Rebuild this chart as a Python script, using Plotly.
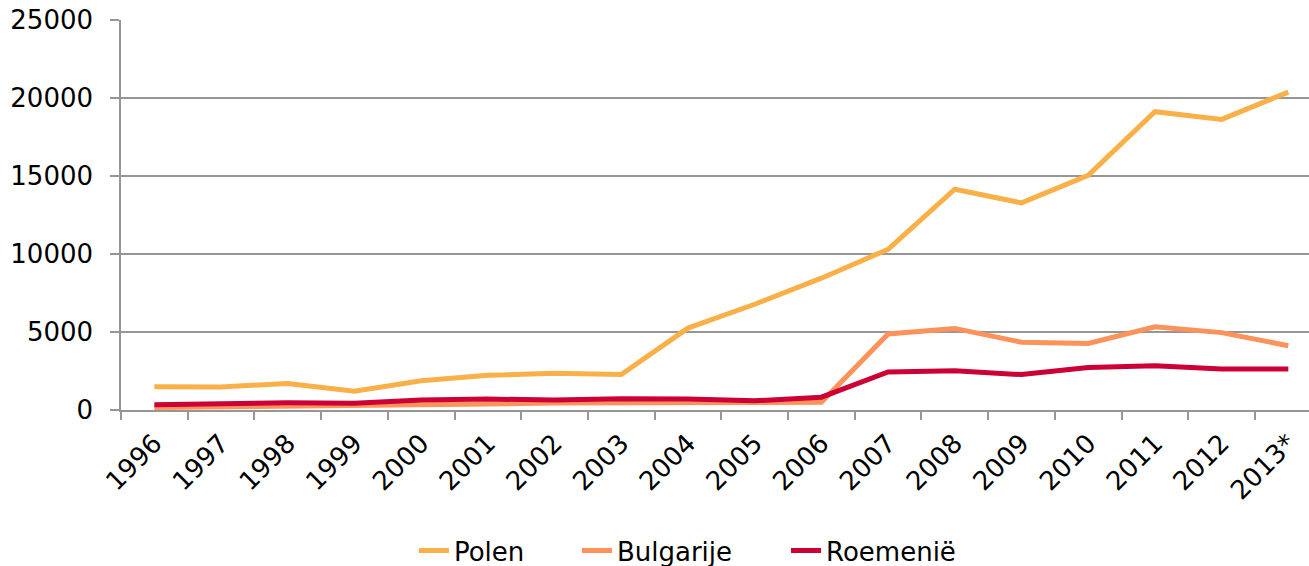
import plotly.graph_objects as go

years = ["1996", "1997", "1998", "1999", "2000", "2001", "2002", "2003", "2004",
         "2005", "2006", "2007", "2008", "2009", "2010", "2011", "2012", "2013*"]
polen = [1490, 1480, 1700, 1200, 1880, 2220, 2350, 2270, 5250, 6780, 8450,
         10300, 14150, 13280, 15040, 19120, 18630, 20380]
bulgarije = [160, 190, 220, 260, 330, 380, 450, 480, 470, 480, 490,
             4870, 5230, 4340, 4270, 5340, 4960, 4120]
roemenie = [340, 400, 460, 430, 640, 700, 640, 720, 700, 590, 820,
            2440, 2520, 2270, 2730, 2840, 2630, 2630]
y_ticks = [0, 5000, 10000, 15000, 20000, 25000]
y_tick_labels = ["0", "5000", "10000", "15000", "20000", "25000"]

series = [("Polen", polen, "#F9B048", "legend", 0.2466),
          ("Bulgarije", bulgarije, "#FD925A", "legend2", 0.3838),
          ("Roemenië", roemenie, "#CC0036", "legend3", 0.5598)]

fig = go.Figure()
legends = {}
for name, vals, col, leg, lx in series:
    fig.add_trace(go.Scatter(x=years, y=vals, name=name, mode="lines",
                             line=dict(color=col, width=5), legend=leg))
    legends[leg] = dict(orientation="h", xanchor="left", x=lx, yref="container",
                        yanchor="middle", y=0.027, font=dict(size=26),
                        bgcolor="rgba(0,0,0,0)", borderwidth=0)

font = dict(family="DejaVu Sans, Verdana, sans-serif", size=26, color="#000000")
grid = "#969696"
fig.update_layout(
    width=1309, height=566,
    margin=dict(l=121, r=0, t=20, b=156, autoexpand=False),
    paper_bgcolor="white", plot_bgcolor="white",
    font=font,
    showlegend=True,
    **legends,
)
fig.update_xaxes(
    type="category", range=[-0.5, 17.31], tickangle=-45, automargin=False,
    showgrid=False, showline=True, linecolor=grid, linewidth=1.5,
    ticks="outside", ticklen=8, tickcolor=grid, tickwidth=1.5, tickson="boundaries",
    tickfont=dict(size=26), zeroline=False, ticklabelstandoff=6,
)
fig.update_yaxes(
    range=[0, 25000], tickvals=y_ticks, ticktext=y_tick_labels, automargin=False,
    showgrid=True, gridcolor=grid, gridwidth=1.5,
    showline=True, linecolor=grid, linewidth=1.5,
    ticks="outside", ticklen=9, tickcolor=grid, tickwidth=1.5,
    tickfont=dict(size=26), zeroline=False, ticklabelstandoff=12,
)
fig.write_html("out.html", config={"displayModeBar": False},
               post_script="document.body.style.margin='0';document.body.style.overflow='hidden';")
